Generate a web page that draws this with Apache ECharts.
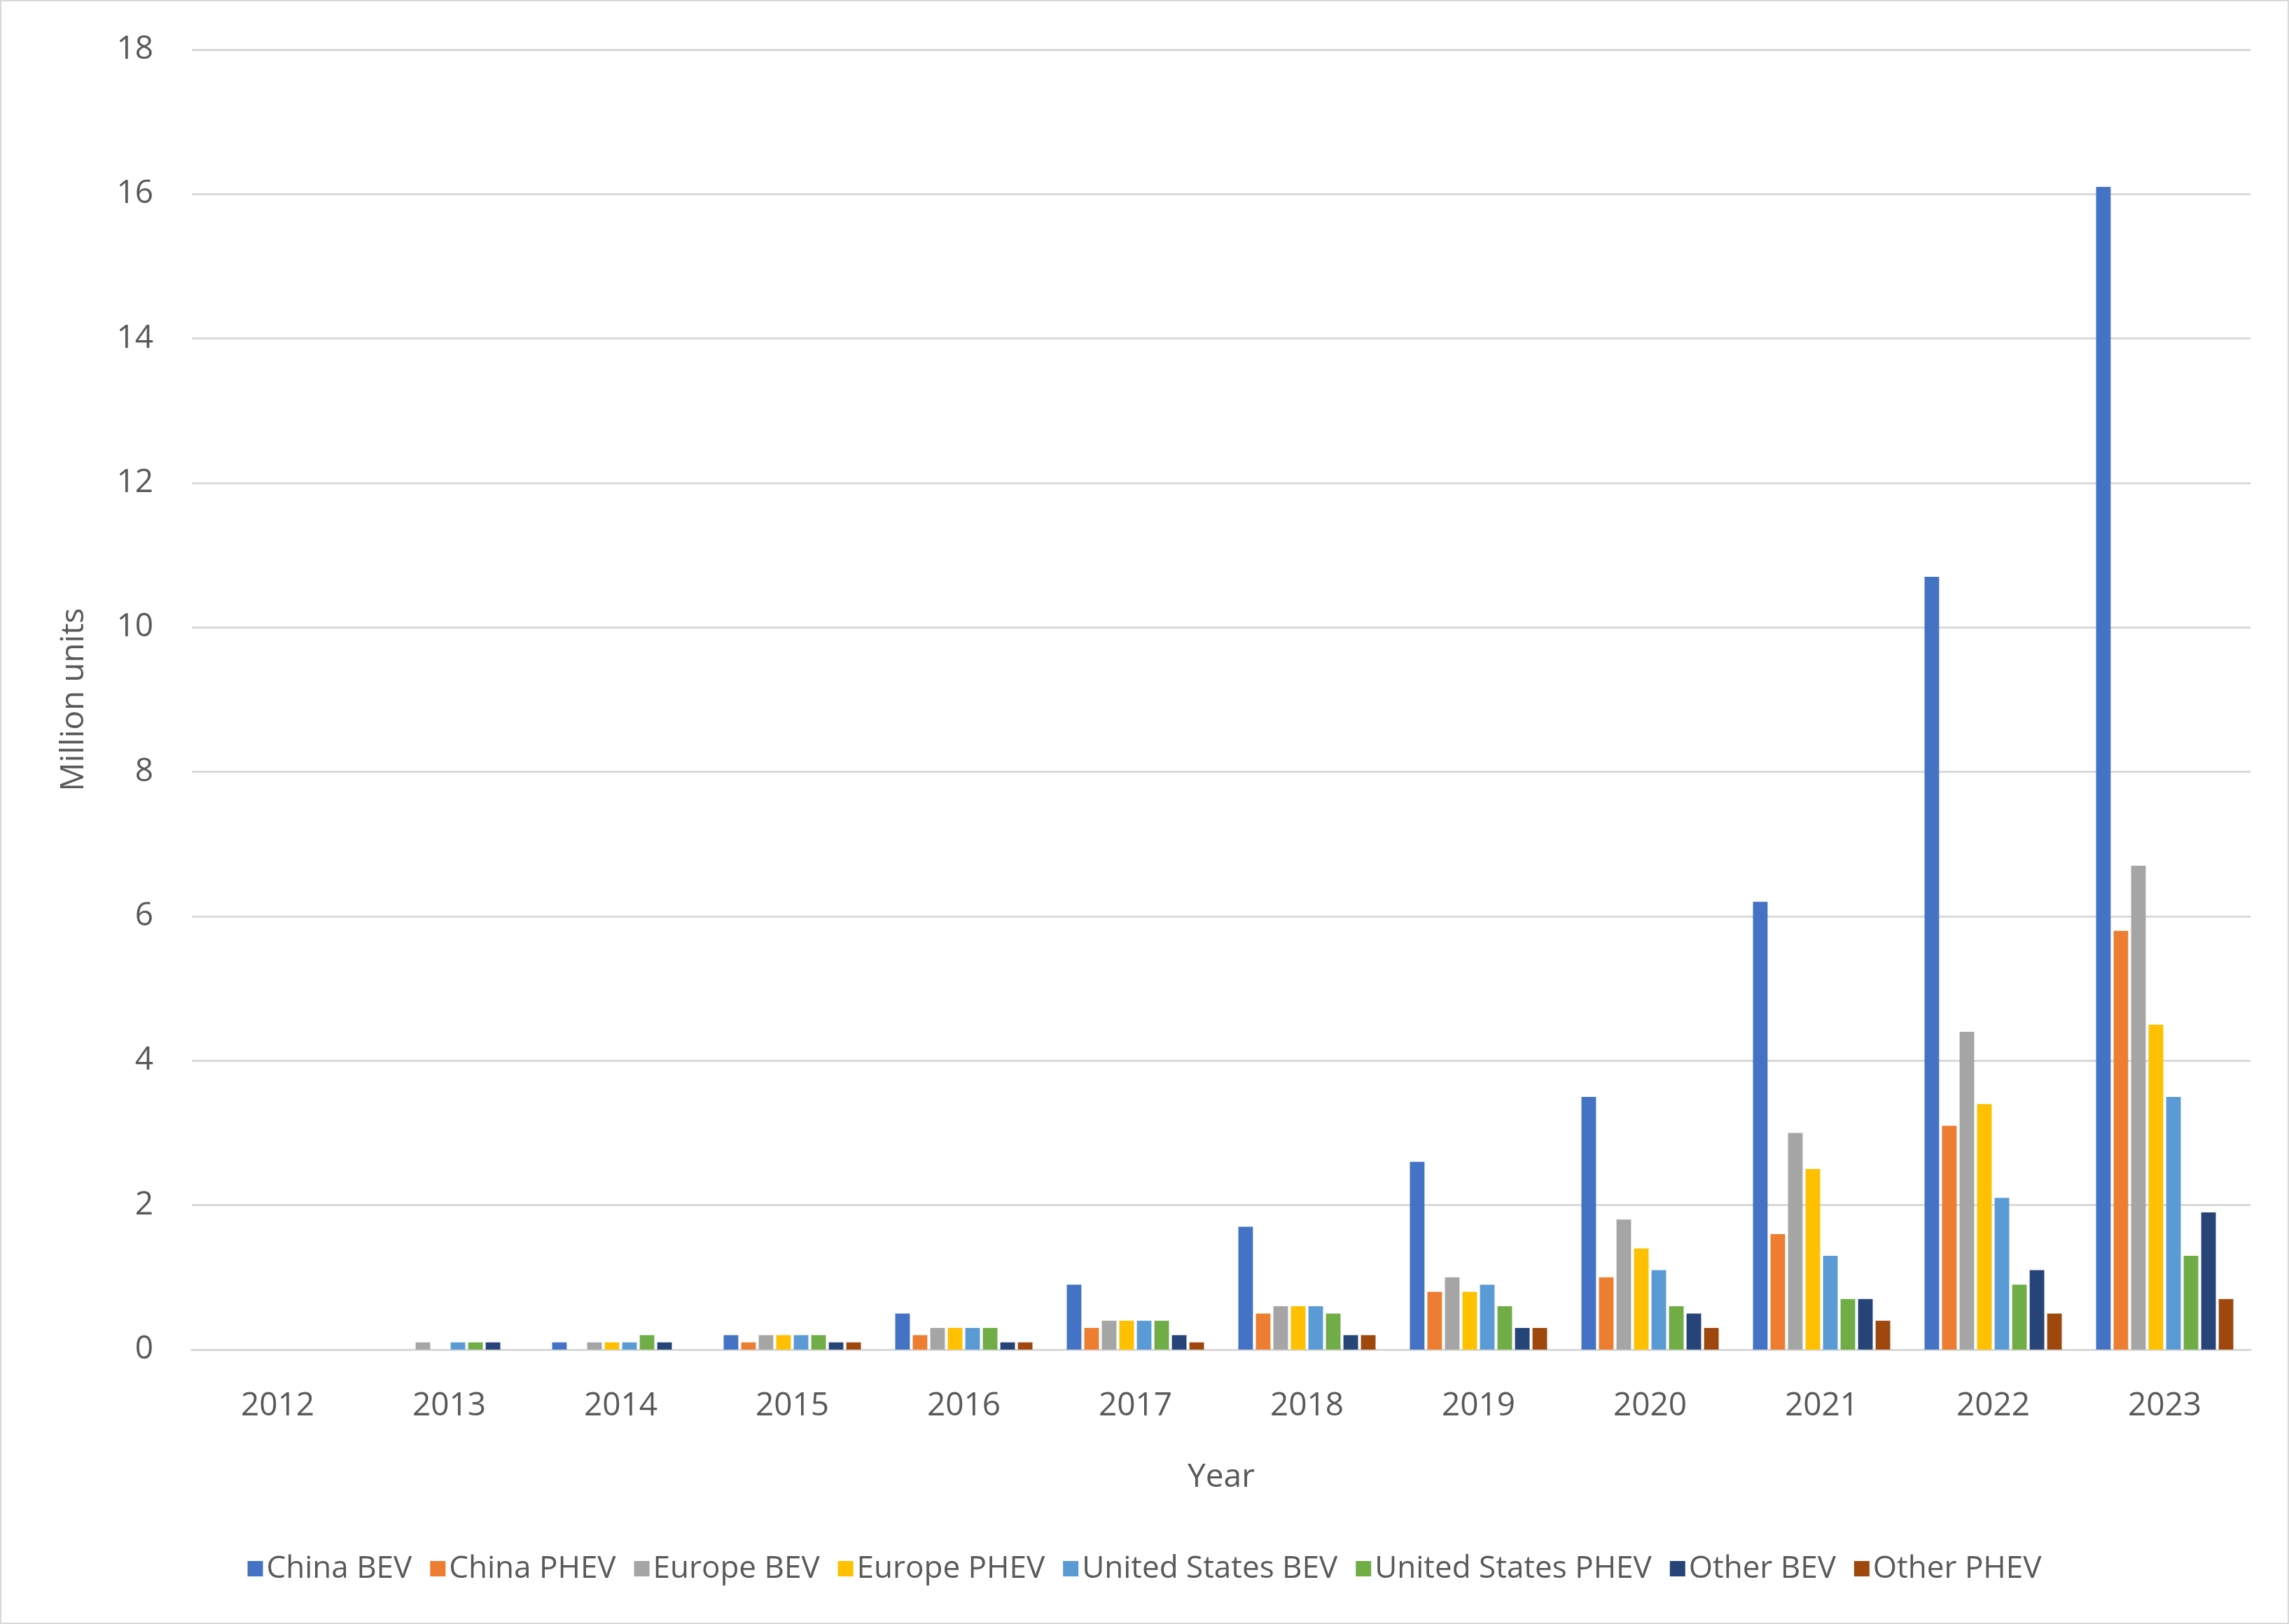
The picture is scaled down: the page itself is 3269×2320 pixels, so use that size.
<!DOCTYPE html>
<html><head><meta charset="utf-8">
<script src="https://cdn.jsdelivr.net/npm/echarts@6/dist/echarts.min.js"></script>
<style>html,body{margin:0;padding:0;background:#fff}#c{width:3269px;height:2320px;box-sizing:border-box;border:2px solid #d9d9d9}</style>
</head><body><div id="c"></div>
<script>
const years = ['2012','2013','2014','2015','2016','2017','2018','2019','2020','2021','2022','2023'];
const chinaBEV = [0,0,0.1,0.2,0.5,0.9,1.7,2.6,3.5,6.2,10.7,16.1];
const chinaPHEV = [0,0,0,0.1,0.2,0.3,0.5,0.8,1.0,1.6,3.1,5.8];
const europeBEV = [0,0.1,0.1,0.2,0.3,0.4,0.6,1.0,1.8,3.0,4.4,6.7];
const europePHEV = [0,0,0.1,0.2,0.3,0.4,0.6,0.8,1.4,2.5,3.4,4.5];
const usBEV = [0,0.1,0.1,0.2,0.3,0.4,0.6,0.9,1.1,1.3,2.1,3.5];
const usPHEV = [0,0.1,0.2,0.2,0.3,0.4,0.5,0.6,0.6,0.7,0.9,1.3];
const otherBEV = [0,0.1,0.1,0.1,0.1,0.2,0.2,0.3,0.5,0.7,1.1,1.9];
const otherPHEV = [0,0,0,0.1,0.1,0.1,0.2,0.3,0.3,0.4,0.5,0.7];
const names = ['China BEV','China PHEV','Europe BEV','Europe PHEV','United States BEV','United States PHEV','Other BEV','Other PHEV'];
const colors = ['#4472C4','#ED7D31','#A5A5A5','#FFC000','#5B9BD5','#70AD47','#264478','#9E480E'];
const datas = [chinaBEV,chinaPHEV,europeBEV,europePHEV,usBEV,usPHEV,otherBEV,otherPHEV];
const font = '"Open Sans", "Noto Sans", sans-serif';
const chart = echarts.init(document.getElementById('c'));
chart.setOption({
  animation:false,
  color:colors,
  textStyle:{fontFamily:font},
  grid:{left:272,right:53,top:69,bottom:390,containLabel:false},
  legend:{bottom:50,left:'center',itemWidth:22,itemHeight:22,itemGap:26,icon:'rect',
    textStyle:{fontSize:44,color:'#595959',fontFamily:font},data:names},
  xAxis:{type:'category',data:years,name:'Year',nameLocation:'middle',nameGap:160,
    nameTextStyle:{fontSize:46,color:'#595959'},
    axisLine:{lineStyle:{color:'#d9d9d9',width:3}},axisTick:{show:false},
    axisLabel:{fontSize:46,color:'#595959',margin:58}},
  yAxis:{type:'value',min:0,max:18,interval:2,name:'Million units',nameLocation:'middle',nameGap:145,
    nameTextStyle:{fontSize:46,color:'#595959'},
    axisLine:{show:false},axisTick:{show:false},
    splitLine:{lineStyle:{color:'#d9d9d9',width:3}},
    axisLabel:{fontSize:46,color:'#595959',margin:55}},
  series:names.map((n,i)=>({name:n,type:'bar',data:datas[i],barGap:'20%',barCategoryGap:'20%'}))
});
</script></body></html>
